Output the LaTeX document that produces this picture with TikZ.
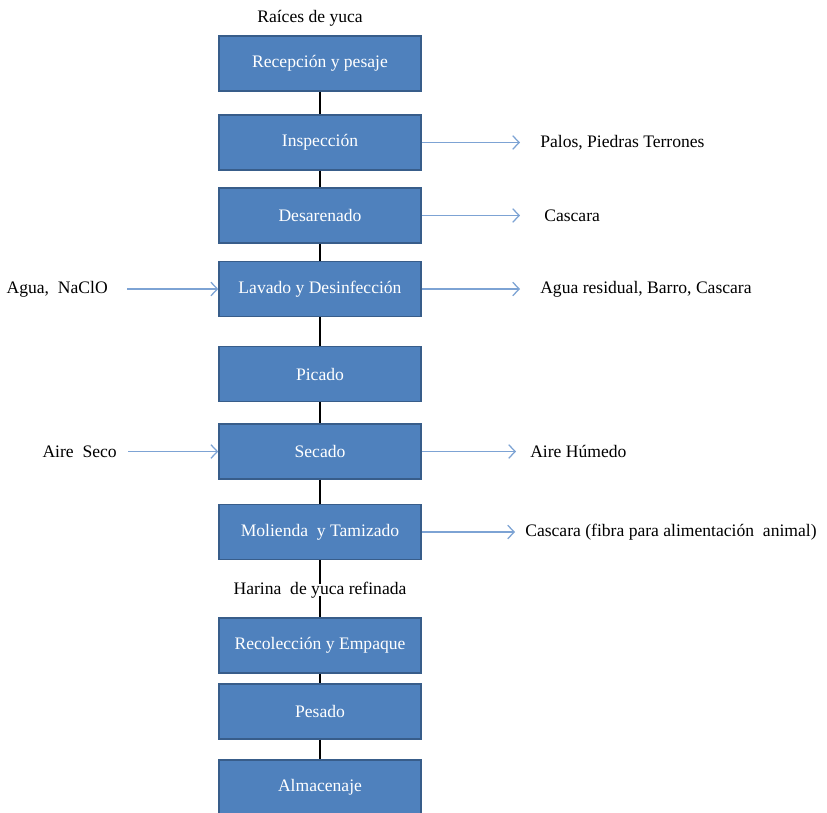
\documentclass[tikz,border=0pt]{standalone}
\usepackage{fontspec}
\setmainfont{Liberation Serif}
\usetikzlibrary{arrows.meta}

\definecolor{boxfill}{RGB}{79,129,189}
\definecolor{boxline}{RGB}{56,93,138}
\definecolor{flowblue}{RGB}{125,163,212}

\begin{document}
\begin{tikzpicture}[x=0.025cm,y=-0.025cm,
    >={Straight Barb[length=1.6mm,width=3.4mm]},
    proc/.style={draw=boxline,line width=1.1pt,fill=boxfill,text=white,
      minimum width=5.05cm,minimum height=1.37cm,inner sep=0pt,
      font=\fontsize{12.5}{15}\selectfont},
    side/.style={inner sep=0pt,font=\fontsize{12.5}{15}\selectfont},
    flow/.style={->,draw=flowblue,line width=0.9pt},
    link/.style={draw=black,line width=1.5pt}]
      \useasboundingbox (0,0) rectangle (827,812);

      \node[side] (raices) at (310,18) {Raíces de yuca};
      \node[proc] (recep) at (320,63.5) {Recepción y pesaje};
      \node[proc] (insp) at (320,142.5) {Inspección};
      \node[proc] (desar) at (320,215.5) {Desarenado};
      \node[proc] (lav) at (320,289) {Lavado y Desinfección};
      \node[proc] (pic) at (320,374) {Picado};
      \node[proc] (sec) at (320,451.5) {Secado};
      \node[proc] (mol) at (320,532) {Molienda\ \ y Tamizado};
      \node[side] (harina) at (320,590) {Harina\ \ de yuca refinada};
      \node[proc] (recol) at (320,645.5) {Recolección y Empaque};
      \node[proc] (pes) at (320,711.5) {Pesado};
      \node[proc] (alm) at (320,787.5) {Almacenaje};

      % entradas y salidas
      \node[side,anchor=west] (palos) at (540,142.5) {Palos, Piedras Terrones};
      \node[side,anchor=west] (casc) at (544,215.5) {Cascara};
      \node[side,anchor=west] (aguares) at (540,289) {Agua residual, Barro, Cascara};
      \node[side,anchor=east] (agua) at (108,289) {Agua,\ \ NaClO};
      \node[side,anchor=east] (aireseco) at (117,451.5) {Aire\ \ Seco};
      \node[side,anchor=west] (airehum) at (530,451.5) {Aire Húmedo};
      \node[side,anchor=west] (fibra) at (525,532) {Cascara (fibra para alimentación\ \ animal)};

      \draw[link] (recep) -- (insp);
      \draw[link] (insp) -- (desar);
      \draw[link] (desar) -- (lav);
      \draw[link] (lav) -- (pic);
      \draw[link] (pic) -- (sec);
      \draw[link] (sec) -- (mol);
      \draw[link] (mol.south) -- ([yshift=-2pt]harina.north);
      \draw[link] ([yshift=2pt]harina.south) -- (recol.north);
      \draw[link] (recol) -- (pes);
      \draw[link] (pes) -- (alm);

      \draw[flow,shorten >=0.5cm] (insp.east) -- (palos.west);
      \draw[flow,shorten >=0.6cm] (desar.east) -- (casc.west);
      \draw[flow,shorten >=0.5cm] (lav.east) -- (aguares.west);
      \draw[flow,shorten <=0.48cm] (agua.east) -- (lav.west);
      \draw[flow,shorten <=0.28cm] (aireseco.east) -- (sec.west);
      \draw[flow,shorten >=0.35cm] (sec.east) -- (airehum.west);
      \draw[flow,shorten >=0.25cm] (mol.east) -- (fibra.west);
    \end{tikzpicture}
\end{document}
